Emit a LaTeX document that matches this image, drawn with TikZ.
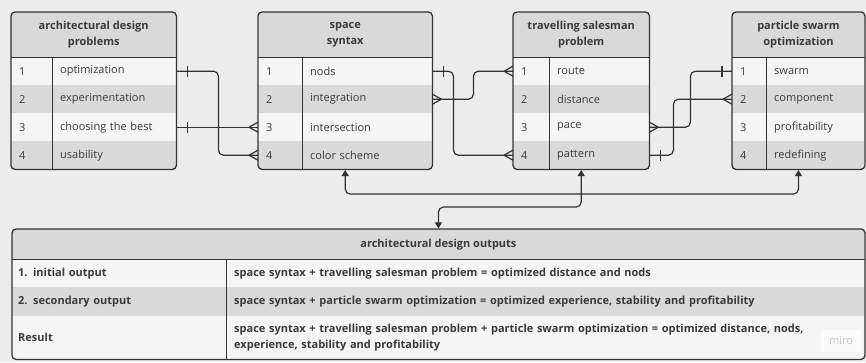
\documentclass[tikz,border=0pt]{standalone}
\usepackage{fontspec}
\setmainfont{Open Sans}
\usetikzlibrary{arrows.meta, fit}

\definecolor{bgcol}{HTML}{EDEDED}
\definecolor{hdrcol}{HTML}{D9D9D9}
\definecolor{rowlight}{HTML}{F5F5F5}
\definecolor{rowdark}{HTML}{DADADA}
\definecolor{linecol}{HTML}{333333}
\definecolor{textcol}{HTML}{3A3A3A}
\definecolor{mirocol}{HTML}{C2C2C2}

% relationship ends
\newcommand{\onebar}[2]{\draw[grid, line width=1.2pt] ([xshift=#2]#1) ++(0,-5.5) -- ++(0,11);}
\newcommand{\crowfoot}[2]{\draw[conn] ([xshift=#2]#1) -- ([yshift=5pt]#1) ([xshift=#2]#1) -- ([yshift=-5pt]#1);}

\begin{document}
\begin{tikzpicture}[x=1pt, y=-1pt,
    % Styles for the table parts
    hdr/.style={rectangle, anchor=north west, fill=hdrcol, minimum height=45pt, inner sep=0pt, align=center, font=\fontsize{11}{16}\selectfont\bfseries, text=textcol},
    cell/.style={rectangle, anchor=north west, minimum height=28pt, inner xsep=8pt, inner ysep=0pt, align=left, font=\fontsize{11}{16}\selectfont, text=textcol},
    outcell/.style={cell, font=\fontsize{11}{16}\selectfont\bfseries},
    frame/.style={rectangle, draw=linecol, line width=1.3pt, rounded corners=4pt, inner sep=0pt},
    grid/.style={draw=linecol, line width=1.3pt},
    conn/.style={draw=linecol, line width=1.2pt, rounded corners=5pt},
    link/.style={conn, >={Triangle[length=6pt, width=7pt]}},
]
\useasboundingbox (0,0) rectangle (866,362);
\fill[bgcol] (0,0) rectangle (866,362);

% architectural design problems
\begin{scope}
  \clip[rounded corners=4pt] (11,12) rectangle (176,169);
  \node[hdr, minimum width=165pt] (prob-h) at (11,12) {architectural design\\problems};
  \foreach \t [count=\i] in {optimization, experimentation, choosing the best, usability} {
    \ifodd\i \def\rowcol{rowlight}\else\def\rowcol{rowdark}\fi
    \node[cell, fill=\rowcol, text width=25pt] (prob-n\i) at (11,{29+28*\i}) {\i};
    \node[cell, fill=\rowcol, text width=108pt] (prob-l\i) at (52,{29+28*\i}) {\t};
  }
\end{scope}
\node[frame, fit=(prob-h)(prob-l4)(prob-n4)] (prob) {};
\draw[grid] (prob-h.south west) -- (prob-h.south east);
\draw[grid] (prob-n1.north east) -- (prob-n4.south east);

% space syntax
\begin{scope}
  \clip[rounded corners=4pt] (258,12) rectangle (432,169);
  \node[hdr, minimum width=174pt] (sps-h) at (258,12) {space\\syntax};
  \foreach \t [count=\i] in {nods, integration, intersection, color scheme} {
    \ifodd\i \def\rowcol{rowlight}\else\def\rowcol{rowdark}\fi
    \node[cell, fill=\rowcol, text width=28pt] (sps-n\i) at (258,{29+28*\i}) {\i};
    \node[cell, fill=\rowcol, text width=114pt] (sps-l\i) at (302,{29+28*\i}) {\t};
  }
\end{scope}
\node[frame, fit=(sps-h)(sps-l4)(sps-n4)] (sps) {};
\draw[grid] (sps-h.south west) -- (sps-h.south east);
\draw[grid] (sps-n1.north east) -- (sps-n4.south east);

% travelling salesman problem
\begin{scope}
  \clip[rounded corners=4pt] (513,12) rectangle (649,169);
  \node[hdr, minimum width=136pt] (tsp-h) at (513,12) {travelling salesman\\problem};
  \foreach \t [count=\i] in {route, distance, pace, pattern} {
    \ifodd\i \def\rowcol{rowlight}\else\def\rowcol{rowdark}\fi
    \node[cell, fill=\rowcol, text width=20pt] (tsp-n\i) at (513,{29+28*\i}) {\i};
    \node[cell, fill=\rowcol, text width=84pt] (tsp-l\i) at (549,{29+28*\i}) {\t};
  }
\end{scope}
\node[frame, fit=(tsp-h)(tsp-l4)(tsp-n4)] (tsp) {};
\draw[grid] (tsp-h.south west) -- (tsp-h.south east);
\draw[grid] (tsp-n1.north east) -- (tsp-n4.south east);

% particle swarm optimization
\begin{scope}
  \clip[rounded corners=4pt] (732,12) rectangle (864.5,169);
  \node[hdr, minimum width=132.5pt] (pso-h) at (732,12) {particle swarm\\optimization};
  \foreach \t [count=\i] in {swarm, component, profitability, redefining} {
    \ifodd\i \def\rowcol{rowlight}\else\def\rowcol{rowdark}\fi
    \node[cell, fill=\rowcol, text width=18pt] (pso-n\i) at (732,{29+28*\i}) {\i};
    \node[cell, fill=\rowcol, text width=82.5pt] (pso-l\i) at (766,{29+28*\i}) {\t};
  }
\end{scope}
\node[frame, fit=(pso-h)(pso-l4)(pso-n4)] (pso) {};
\draw[grid] (pso-h.south west) -- (pso-h.south east);
\draw[grid] (pso-n1.north east) -- (pso-n4.south east);

% architectural design outputs
\begin{scope}
  \clip[rounded corners=4pt] (12,229) rectangle (864.5,359);
  \node[hdr, minimum width=852.5pt, minimum height=30pt] (out-h) at (12,229) {architectural design outputs};
  \node[outcell, fill=rowlight, inner xsep=6pt, text width=202pt] (out-n1) at (12,259) {1. initial output};
  \node[outcell, fill=rowlight, text width=622.5pt] (out-l1) at (226,259) {space syntax + travelling salesman problem = optimized distance and nods};
  \node[outcell, fill=rowdark, minimum height=29pt, inner xsep=6pt, text width=202pt] (out-n2) at (12,287) {2. secondary output};
  \node[outcell, fill=rowdark, minimum height=29pt, text width=622.5pt] (out-l2) at (226,287) {space syntax + particle swarm optimization = optimized experience, stability and profitability};
  \node[outcell, fill=rowlight, minimum height=43pt, inner xsep=6pt, text width=202pt] (out-n3) at (12,316) {Result};
  \node[outcell, fill=rowlight, minimum height=43pt, text width=622.5pt] (out-l3) at (226,316) {space syntax + travelling salesman problem + particle swarm optimization = optimized distance, nods,\\experience, stability and profitability};
\end{scope}
\node[frame, fit=(out-h)(out-l3)(out-n3)] (out) {};
\draw[grid] (out-h.south west) -- (out-h.south east);
\draw[grid] (out-n1.north east) -- (out-n3.south east);
\node[rectangle, fill=white!60!rowlight, rounded corners=2pt, minimum width=40pt, minimum height=22pt, inner sep=0pt, text=mirocol, font=\fontsize{11}{12}\selectfont] (miro) at (841,341) {miro};

% problems to space syntax
\draw[conn] (prob-l1.east) -- ++(42,0) |- (sps-n4.west);
\draw[conn] (prob-l3.east) -- (sps-n3.west);
\onebar{prob-l1.east}{11pt}
\onebar{prob-l3.east}{11pt}
\crowfoot{sps-n4.west}{-9pt}
\crowfoot{sps-n3.west}{-9pt}

% space syntax to travelling salesman
\draw[conn] (sps-l1.east) -- ++(21,0) |- (tsp-n4.west);
\draw[conn] (sps-l2.east) -- ++(41,0) |- (tsp-n1.west);
\onebar{sps-l1.east}{11pt}
\crowfoot{sps-l2.east}{9pt}
\crowfoot{tsp-n4.west}{-9pt}
\crowfoot{tsp-n1.west}{-9pt}

% travelling salesman to particle swarm
\draw[conn] (tsp-l3.east) -- ++(41,0) |- (pso-n1.west);
\draw[conn] (tsp-l4.east) -- ++(24,0) |- (pso-n2.west);
\crowfoot{tsp-l3.east}{9pt}
\onebar{tsp-l4.east}{11pt}
\onebar{pso-n1.west}{-10pt}
\crowfoot{pso-n2.west}{-9pt}

% methods to outputs
\path (tsp.south) ++(0,24) coordinate (hub);
\draw[link, <->] (tsp.south) -- ++(0,37) -| (out.north);
\draw[link, ->] (hub) -| (sps.south);
\draw[link, ->] (hub) -| (pso.south);

\end{tikzpicture}
\end{document}
